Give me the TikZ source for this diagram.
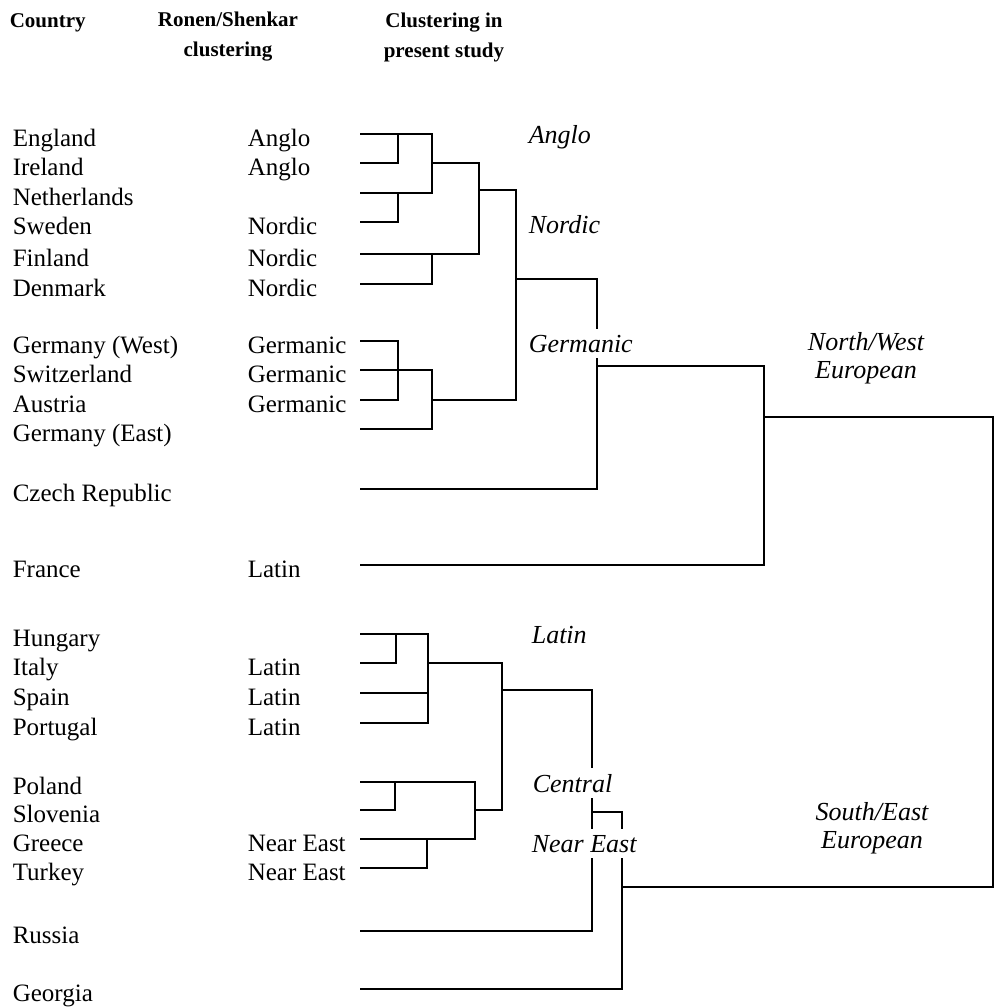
\documentclass[tikz,border=0pt]{standalone}
\usepackage{fontspec}
\setmainfont{Liberation Serif}

\begin{document}
\begin{tikzpicture}[x=0.5pt,y=-0.5pt,line width=0.8pt,
  head/.style={inner sep=0pt,align=center,font=\fontsize{10.5}{15}\selectfont\bfseries},
  country/.style={anchor=base west,inner sep=0pt,font=\fontsize{12.5}{14}\selectfont},
  clust/.style={anchor=base west,fill=white,inner xsep=1pt,inner ysep=3pt,font=\fontsize{13}{14}\selectfont\itshape},
  region/.style={inner sep=0pt,align=center,font=\fontsize{13}{14}\selectfont\itshape}]
  \useasboundingbox (0,0) rectangle (995,1007);

  % column heads
  \node[head,anchor=base west] (hcountry) at (9,27) {Country};
  \node[head] (hronen) at (228,37) {Ronen/Shenkar\\clustering};
  \node[head] (hstudy) at (444,37) {Clustering in\\present study};

  % countries
  \node[country] (n1) at (12,146) {England};
  \node[country] (n2) at (12,175) {Ireland};
  \node[country] (n3) at (12,205) {Netherlands};
  \node[country] (n4) at (12,234) {Sweden};
  \node[country] (n5) at (12,266) {Finland};
  \node[country] (n6) at (12,296) {Denmark};
  \node[country] (n7) at (12,353) {Germany (West)};
  \node[country] (n8) at (12,382) {Switzerland};
  \node[country] (n9) at (12,412) {Austria};
  \node[country] (n10) at (12,441) {Germany (East)};
  \node[country] (n11) at (12,501) {Czech Republic};
  \node[country] (n12) at (12,577) {France};
  \node[country] (n13) at (12,646) {Hungary};
  \node[country] (n14) at (12,675) {Italy};
  \node[country] (n15) at (12,705) {Spain};
  \node[country] (n16) at (12,735) {Portugal};
  \node[country] (n17) at (12,794) {Poland};
  \node[country] (n18) at (12,822) {Slovenia};
  \node[country] (n19) at (12,851) {Greece};
  \node[country] (n20) at (12,880) {Turkey};
  \node[country] (n21) at (12,943) {Russia};
  \node[country] (n22) at (12,1001) {Georgia};

  % Ronen/Shenkar
  \node[country] (r1) at (247,146) {Anglo};
  \node[country] (r2) at (247,175) {Anglo};
  \node[country] (r4) at (247,234) {Nordic};
  \node[country] (r5) at (247,266) {Nordic};
  \node[country] (r6) at (247,296) {Nordic};
  \node[country] (r7) at (247,353) {Germanic};
  \node[country] (r8) at (247,382) {Germanic};
  \node[country] (r9) at (247,412) {Germanic};
  \node[country] (r12) at (247,577) {Latin};
  \node[country] (r14) at (247,675) {Latin};
  \node[country] (r15) at (247,705) {Latin};
  \node[country] (r16) at (247,735) {Latin};
  \node[country] (r19) at (247,851) {Near East};
  \node[country] (r20) at (247,880) {Near East};

  % leaves
  \coordinate (eng) at (360,134);
  \coordinate (ire) at (360,163);
  \coordinate (net) at (360,193);
  \coordinate (swe) at (360,222);
  \coordinate (fin) at (360,254);
  \coordinate (den) at (360,284);
  \coordinate (gw) at (360,341);
  \coordinate (swi) at (360,370);
  \coordinate (aut) at (360,400);
  \coordinate (ge) at (360,429);
  \coordinate (cze) at (360,489);
  \coordinate (fra) at (360,565);
  \coordinate (hun) at (360,634);
  \coordinate (ita) at (360,663);
  \coordinate (spa) at (360,693);
  \coordinate (por) at (360,723);
  \coordinate (pol) at (360,782);
  \coordinate (slo) at (360,810);
  \coordinate (gre) at (360,839);
  \coordinate (tur) at (360,868);
  \coordinate (rus) at (360,931);
  \coordinate (geo) at (360,989);

  % joins
  \coordinate (j1) at (398,134);
  \coordinate (j2) at (398,193);
  \coordinate (j3) at (432,193);
  \coordinate (anglo) at (432,163);
  \coordinate (j4) at (479,254);
  \coordinate (j5) at (432,254);
  \coordinate (nordic) at (479,190);
  \coordinate (j6) at (516,400);
  \coordinate (j7) at (398,400);
  \coordinate (j8) at (432,370);
  \coordinate (germ) at (432,400);
  \coordinate (nw1) at (516,279);
  \coordinate (j9) at (597,489);
  \coordinate (nw2) at (597,366);
  \coordinate (j10) at (764,565);
  \coordinate (nw3) at (764,417);
  \coordinate (j11) at (993,887);
  \coordinate (j12) at (428,723);
  \coordinate (j13) at (396,634);
  \coordinate (j14) at (428,693);
  \coordinate (latin) at (428,663);
  \coordinate (j15) at (502,810);
  \coordinate (cent) at (475,810);
  \coordinate (j16) at (475,839);
  \coordinate (j17) at (395,782);
  \coordinate (j18) at (427,839);
  \coordinate (se1) at (502,690);
  \coordinate (j19) at (592,931);
  \coordinate (se2) at (592,812);
  \coordinate (j20) at (622,989);
  \coordinate (se3) at (622,887);

  % north/west tree
  \draw (ire) -| (j1);
  \draw (swe) -| (j2);
  \draw (eng) -| (j3) -- (net);
  \draw (den) -| (j5);
  \draw (anglo) -| (j4) -- (fin);
  \draw (gw) -| (j7) -- (aut);
  \draw (ge) -| (j8) -- (swi);
  \draw (nordic) -| (j6) -- (germ);
  \draw (nw1) -| (j9) -- (cze);
  \draw (nw2) -| (j10) -- (fra);
  \draw (nw3) -| (j11) -- (se3);

  % south/east tree
  \draw (hun) -| (j12) -- (por);
  \draw (ita) -| (j13);
  \draw (spa) -- (j14);
  \draw (slo) -| (j17);
  \draw (tur) -| (j18);
  \draw (pol) -| (j16) -- (gre);
  \draw (latin) -| (j15) -- (cent);
  \draw (se1) -| (j19) -- (rus);
  \draw (se2) -| (j20) -- (geo);

  % present study
  \node[clust] (c1) at (526,143) {Anglo};
  \node[clust] (c2) at (526,233) {Nordic};
  \node[clust] (c3) at (526,352) {Germanic};
  \node[clust] (c4) at (529,643) {Latin};
  \node[clust] (c5) at (530,792) {Central};
  \node[clust] (c6) at (529,852) {Near East};
  \node[region] (nw) at (866,358) {North/West\\European};
  \node[region] (se) at (872,828) {South/East\\European};
\end{tikzpicture}
\end{document}
